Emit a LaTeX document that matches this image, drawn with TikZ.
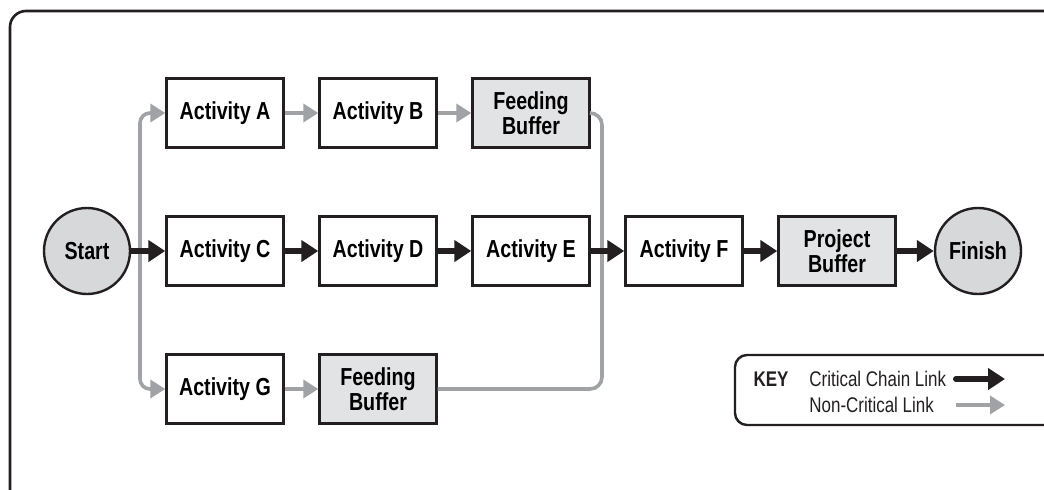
\documentclass[tikz,border=0pt]{standalone}
\usepackage{fontspec}
\setmainfont{Liberation Sans}[FakeStretch=0.8]
\usepackage{tikz}
\usetikzlibrary{arrows.meta}
\definecolor{inkblack}{RGB}{35, 31, 32}
\definecolor{linkgray}{RGB}{160, 162, 165}
\definecolor{bufgray}{RGB}{226, 227, 228}
\definecolor{termgray}{RGB}{215, 216, 218}

\begin{document}
\begin{tikzpicture}[x=0.5pt, y=-0.5pt,
        act/.style={draw=inkblack, line width=1.2pt, fill=white, inner sep=0pt,
              minimum width=58.5pt, minimum height=34.5pt, align=center,
              font=\bfseries\fontsize{12.3}{12.5}\selectfont},
        buf/.style={act, fill=bufgray},
        term/.style={circle, draw=inkblack, line width=1.2pt, fill=termgray,
              minimum size=43pt, inner sep=0pt,
              font=\bfseries\fontsize{12.3}{12.5}\selectfont},
        crit/.style={-{Triangle[length=8.5pt, width=10.5pt]}, inkblack, line width=3pt},
        noncrit/.style={-{Triangle[length=7.5pt, width=9pt]}, linkgray, line width=1.8pt}]
                \useasboundingbox (0,0) rectangle (1044,489);
                \clip (0,0) rectangle (1044,489);
                \draw[inkblack, line width=1.3pt, rounded corners=8pt] (10,11) rectangle (1080,520);
                % chain
                \node[term] (start) at (87,251) {Start};
                \node[act] (a) at (225,113) {Activity A};
                \node[act] (b) at (378,113) {Activity B};
                \node[buf] (fb1) at (531,113) {Feeding\\Buffer};
                \node[act] (c) at (225,251) {Activity C};
                \node[act] (d) at (378,251) {Activity D};
                \node[act] (e) at (531,251) {Activity E};
                \node[act] (f) at (684,251) {Activity F};
                \node[buf] (pb) at (837,251) {Project\\Buffer};
                \node[term] (finish) at (978,251) {Finish};
                \node[act] (g) at (225,389) {Activity G};
                \node[buf] (fb2) at (378,389) {Feeding\\Buffer};
                \coordinate (split) at (140,251);
                \coordinate (join) at (602,251);
                % non-critical links
                \draw[noncrit, rounded corners=5pt] (split) |- (a);
                \draw[noncrit, rounded corners=5pt] (split) |- (g);
                \draw[noncrit] (a) -- (b);
                \draw[noncrit] (b) -- (fb1);
                \draw[noncrit] (g) -- (fb2);
                \draw[noncrit, -, rounded corners=6pt] (fb1) -| (join);
                \draw[noncrit, -, rounded corners=6pt] (fb2) -| (join);
                % critical chain
                \draw[crit] (start) -- (c);
                \draw[crit] (c) -- (d);
                \draw[crit] (d) -- (e);
                \draw[crit] (e) -- (f);
                \draw[crit] (f) -- (pb);
                \draw[crit] (pb) -- (finish);
                % key
                \draw[inkblack, line width=1.2pt, rounded corners=6pt] (735,355) rectangle (1080,425);
                \node[font=\bfseries\fontsize{10.6}{12}\selectfont, text=inkblack] (key) at (771,379) {KEY};
                \node[anchor=west, inner sep=0pt, font=\fontsize{10.6}{12}\selectfont, text=inkblack]
                      (critlbl) at (809,379) {Critical Chain Link};
                \node[anchor=west, inner sep=0pt, font=\fontsize{10.6}{12}\selectfont, text=inkblack]
                      (noncritlbl) at (809,405) {Non-Critical Link};
                \coordinate (k1s) at (956,379);
                \coordinate (k1e) at (1005,379);
                \coordinate (k2s) at (956,405);
                \coordinate (k2e) at (1005,405);
                \draw[crit, line cap=round] (k1s) -- (k1e);
                \draw[noncrit] (k2s) -- (k2e);
\end{tikzpicture}
\end{document}
